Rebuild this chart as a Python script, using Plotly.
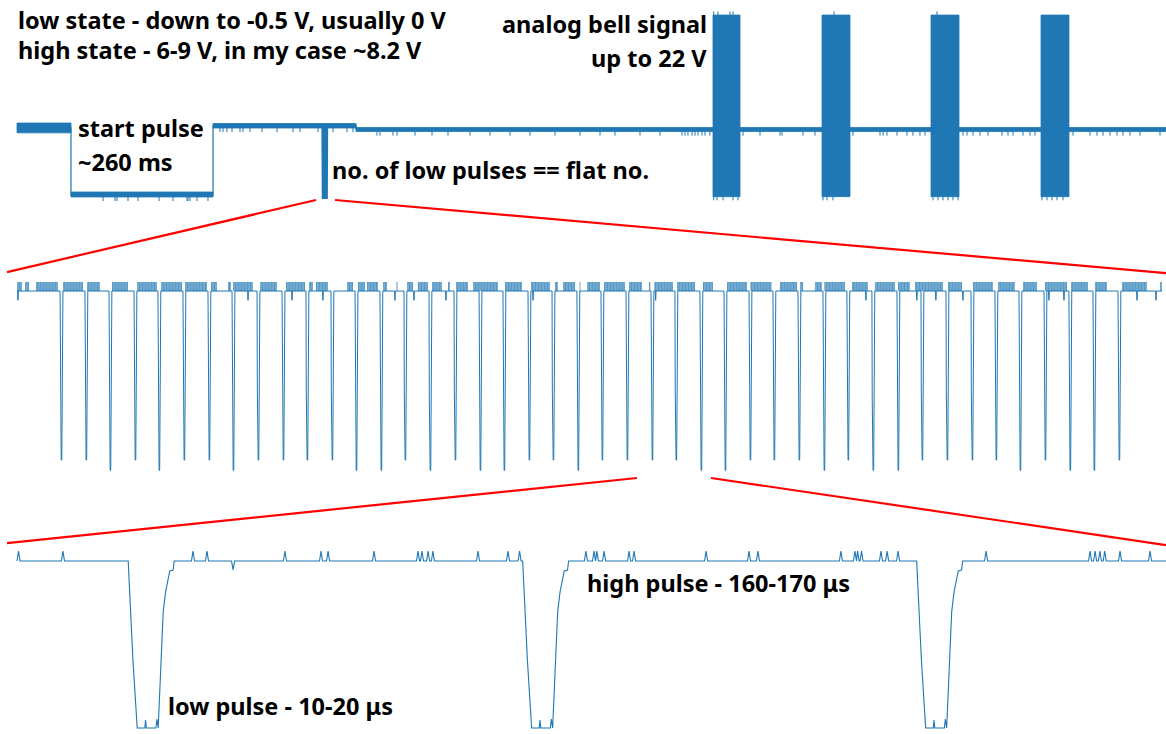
import plotly.graph_objects as go

BLUE = "#1f77b4"
W, H = 1166, 734

# ---------------- Panel 1 : whole call (time in ms, voltage in V) ----------------
p1_step_t = [0.0, 98.9, 359.0, 621.0, 2110.0]      # level change times
p1_step_v = [8.2, 0.0, 8.5, 8.0]                   # level of each segment
p1_noise_lo = [7.6, -0.24, 8.19, 7.76]             # noise band of each segment
p1_noise_hi = [8.8, 0.37, 8.74, 8.25]
p1_train_start = 559.5                              # where the low-pulse train sits
bell_start = [1274.7, 1474.4, 1674.0, 1875.5]
bell_end = [1324.2, 1525.6, 1725.3, 1926.7]
bell_low, bell_high = -0.2, 22.0
bell_ticks_top = [1276.0, 1283.9, 1305.9, 1311.4, 1496.3, 1685.0]
bell_ticks_bottom = [1276.0, 1282.1, 1293.1, 1311.4, 1320.5, 1476.2, 1483.5, 1494.5, 1677.7,
                     1686.8, 1696.0, 1705.1, 1714.3, 1723.5, 1877.3, 1886.4, 1895.6, 1904.8,
                     1915.7]
p1_ticks_seg1 = [157.5, 179.5, 183.2, 203.3, 221.6, 260.1, 285.7, 311.4, 313.2, 316.9, 329.7, 349.8]
p1_ticks_seg2 = [371.8, 377.3, 384.6, 393.8, 408.4, 413.9, 426.7, 448.7, 476.2, 505.5, 518.3,
                 551.3, 578.8, 604.4, 615.4]
p1_ticks_seg3 = [659.3, 664.8, 688.6, 696.0, 729.0, 760.1, 789.4, 829.7, 866.3, 902.9, 939.6,
                 985.4, 1031.1, 1067.8, 1095.2, 1141.0, 1177.7, 1218.0, 1223.4, 1228.9, 1236.3,
                 1241.8, 1247.3, 1254.6, 1260.1, 1269.2, 1329.7, 1360.8, 1397.4, 1401.1, 1439.6,
                 1461.5, 1531.1, 1580.6, 1586.1, 1593.4, 1611.7, 1630.0, 1641.0, 1653.8, 1663.0,
                 1732.6, 1739.9, 1750.9, 1763.7, 1778.4, 1804.0, 1815.0, 1824.2, 1842.5, 1855.3,
                 1864.5, 1934.1, 1965.2, 1978.0, 1989.0, 2001.8, 2014.6, 2025.6, 2038.4, 2056.7,
                 2093.4]
p1_tick_len = 0.5

# ---------------- Panel 2 : low-pulse train (time in us, voltage in V) ----------------
p2_high = 8.2
p2_end = 8376.0
p2_pulse_t = [315, 497, 673, 856, 1031, 1214, 1397, 1573, 1756, 1939, 2114, 2297, 2473, 2655,
              2831, 3014, 3197, 3380, 3555, 3738, 3914, 4096, 4272, 4455, 4638, 4813, 4996,
              5172, 5355, 5530, 5713, 5896, 6071, 6254, 6437, 6613, 6796, 6979, 7154, 7330,
              7513, 7695, 7871, 8054]
p2_pulse_low = [0.0, 0.0, -0.5, 0.0, -0.5, 0.0, 0.0, -0.5, 0.0, 0.0, 0.0, 0.0, -0.5, -0.5,
                0.0, -0.5, 0.0, -0.5, -0.5, 0.0, 0.0, -0.5, 0.0, 0.0, 0.0, 0.0, -0.5,
                -0.5, 0.0, 0.0, 0.0, -0.5, 0.0, -0.5, -0.5, 0.0, 0.0, 0.0, 0.0, -0.5,
                0.0, -0.5, -0.5, 0.0]
p2_glitch_start = [0, 59, 139, 336, 512, 695, 878, 1053, 1229, 1419, 1543, 1580, 1778, 1968,
                   2136, 2187, 2414, 2494, 2560, 2677, 2776, 2853, 2933, 3036, 3153, 3211, 3336,
                   3570, 3760, 3935, 3994, 4115, 4170, 4294, 4477, 4623, 4662, 4828, 5018, 5194,
                   5365, 5581, 5728, 5837, 5905, 6108, 6276, 6445, 6569, 6810, 6993, 7176, 7359,
                   7520, 7710, 7885, 8083, 8361]
p2_glitch_end = [37, 88, 300, 483, 607, 812, 1024, 1207, 1390, 1463, 1565, 1726, 1902, 2107,
                 2165, 2275, 2458, 2546, 2641, 2707, 2784, 2897, 3006, 3109, 3167, 3299, 3518,
                 3694, 3899, 3957, 4082, 4122, 4265, 4448, 4572, 4633, 4799, 4960, 5091, 5340,
                 5520, 5706, 5750, 5888, 6057, 6225, 6423, 6532, 6774, 6913, 7139, 7300, 7461,
                 7681, 7834, 7973, 8266, 8376]
p2_glitch_top = 8.64
p2_dips = [7, 1690, 2012, 2238, 2765, 2904, 3138, 3775, 4672, 6210, 6583, 6722, 6920, 7549,
           7659, 8193, 8332]
p2_dip_depth = 0.45

# ---------------- Panel 3 : three pulses (time in us, voltage in V) ----------------
p3_high = 8.2
p3_end = 525.0
p3_pulse_t = [50.8, 231.0, 411.0]
p3_pulse_low = [-0.3, -0.3, -0.3]
p3_glitches = [0.7, 21.0, 80.4, 86.8, 122.4, 138.9, 142.1, 163.1, 183.2, 185.0, 187.8, 190.0,
               210.6, 224.3, 229.6, 259.9, 263.6, 264.9, 268.2, 279.6, 281.9, 314.8, 334.4,
               338.5, 376.4, 382.8, 384.0, 385.8, 394.7, 397.5, 402.5, 442.7, 490.2, 492.5,
               494.7, 496.9, 503.9, 517.6]
p3_glitch_h = 0.5
p3_dips = [98.7]
p3_dip_depth = 0.45

# pulse shape: (offset in us, fraction of swing between low (0) and high (1))
pulse_dt = [0.0, 2.15, 4.11, 7.6, 7.9, 8.3, 12.65, 13.1, 13.7, 16.0, 17.1, 18.0, 19.0, 20.5, 21.0]
pulse_fr = [1.0, 0.41, 0.0, 0.0, 0.047, 0.0, 0.0, 0.054, 0.0, 0.697, 0.816, 0.886, 0.94, 0.946, 1.0]

# axis ranges (data values at the figure edges)
p1_xr, p1_yr = [-31.14, 2104.4], [-65.89, 23.84]
p2_xr, p2_yr = [-124.4, 8405.3], [-13.29, 22.32]
p3_xr, p3_yr = [-7.766, 524.9], [-0.606, 36.75]

# zoom connectors (in data units of their panels)
zoom1_src = [(547.6, -0.61), (582.4, -0.61)]      # panel 1
zoom1_dst = [(-73.0, 9.12), (8405.0, 9.07)]       # panel 2
zoom2_src = [(4535.0, -0.87), (5077.0, -0.87)]    # panel 2
zoom2_dst = [(-4.57, 9.11), (524.9, 9.01)]        # panel 3


def build_signal(t_end, high, pulses, lows, glitches, glitch_h, glitch_w, dips, dip_d, dip_w):
    ev = []
    for t0, lo in zip(pulses, lows):
        for dt, f in zip(pulse_dt, pulse_fr):
            ev.append((t0 + dt, lo + f * (high - lo)))
    for g in glitches:
        ev += [(g - glitch_w, high), (g, high + glitch_h), (g + glitch_w, high)]
    for d in dips:
        ev += [(d - dip_w, high), (d, high - dip_d), (d + dip_w, high)]
    ev.sort()
    xs = [0.0] + [e[0] for e in ev] + [t_end]
    ys = [high] + [e[1] for e in ev] + [high]
    return xs, ys


fig = go.Figure()

# ---- panel 1
sx, sy = [], []
for i, v in enumerate(p1_step_v):
    sx += [p1_step_t[i], p1_step_t[i + 1]]
    sy += [v, v]
fig.add_trace(go.Scatter(x=sx, y=sy, mode="lines", line=dict(color=BLUE, width=1.2),
                         xaxis="x", yaxis="y", hoverinfo="skip"))
bx, by = [], []
for i in range(len(p1_step_v)):
    a, b = p1_step_t[i], p1_step_t[i + 1]
    bx += [a, b, b, a, a, None]
    by += [p1_noise_lo[i], p1_noise_lo[i], p1_noise_hi[i], p1_noise_hi[i], p1_noise_lo[i], None]
for a, b in zip(bell_start, bell_end):
    bx += [a, b, b, a, a, None]
    by += [bell_low, bell_low, bell_high, bell_high, bell_low, None]
fig.add_trace(go.Scatter(x=bx, y=by, mode="lines", fill="toself", fillcolor=BLUE,
                         line=dict(color=BLUE, width=0.8), xaxis="x", yaxis="y", hoverinfo="skip"))
tx, ty = [], []
for seg, ticks in ((1, p1_ticks_seg1), (2, p1_ticks_seg2), (3, p1_ticks_seg3)):
    lo = p1_noise_lo[seg]
    for t in ticks:
        tx += [t, t, None]
        ty += [lo, lo - p1_tick_len, None]
for t in bell_ticks_top:
    tx += [t, t, None]
    ty += [bell_high, bell_high + 0.45, None]
for t in bell_ticks_bottom:
    tx += [t, t, None]
    ty += [bell_low, bell_low - 0.45, None]
fig.add_trace(go.Scatter(x=tx, y=ty, mode="lines", line=dict(color=BLUE, width=1),
                         xaxis="x", yaxis="y", hoverinfo="skip"))

# ---- panel 2
x2, y2 = build_signal(p2_end, p2_high, p2_pulse_t, p2_pulse_low, [], 0, 0,
                      p2_dips, p2_dip_depth, 3.0)
fig.add_trace(go.Scatter(x=[p1_train_start + t / 1000.0 for t in x2], y=y2, mode="lines",
                         line=dict(color=BLUE, width=2.2), xaxis="x", yaxis="y", hoverinfo="skip"))
gx, gy = [], []
for a, b in zip(p2_glitch_start, p2_glitch_end):
    gx += [a, b, b, a, a, None]
    gy += [p2_high, p2_high, p2_glitch_top, p2_glitch_top, p2_high, None]
fig.add_trace(go.Scatter(x=gx, y=gy, mode="lines", fill="toself",
                         fillpattern=dict(shape="|", fgcolor=BLUE, bgcolor="rgba(31,119,180,0.5)",
                                          size=3, solidity=0.7),
                         line=dict(color="rgba(31,119,180,0)", width=0),
                         xaxis="x2", yaxis="y2", hoverinfo="skip"))
fig.add_trace(go.Scatter(x=x2, y=y2, mode="lines", line=dict(color=BLUE, width=1),
                         xaxis="x2", yaxis="y2", hoverinfo="skip"))

# ---- panel 3
x3, y3 = build_signal(p3_end, p3_high, p3_pulse_t, p3_pulse_low, p3_glitches, p3_glitch_h, 0.7,
                      p3_dips, p3_dip_depth, 0.7)
fig.add_trace(go.Scatter(x=x3, y=y3, mode="lines", line=dict(color=BLUE, width=1.1),
                         xaxis="x3", yaxis="y3", hoverinfo="skip"))


def to_paper(pt, xr, yr):
    return ((pt[0] - xr[0]) / (xr[1] - xr[0]), (pt[1] - yr[0]) / (yr[1] - yr[0]))


shapes = []
for src, dst, sr, dr in ((zoom1_src, zoom1_dst, (p1_xr, p1_yr), (p2_xr, p2_yr)),
                         (zoom2_src, zoom2_dst, (p2_xr, p2_yr), (p3_xr, p3_yr))):
    for s, d in zip(src, dst):
        a = to_paper(s, *sr)
        b = to_paper(d, *dr)
        shapes.append(dict(type="line", xref="paper", yref="paper", x0=a[0], y0=a[1],
                           x1=b[0], y1=b[1], line=dict(color="red", width=2.2)))

labels = [
    ("low state - down to -0.5 V, usually 0 V", 16, 20, "left"),
    ("high state - 6-9 V, in my case ~8.2 V", 16, 50, "left"),
    ("analog bell signal", 709, 24, "right"),
    ("up to 22 V", 709, 58, "right"),
    ("start pulse", 76, 128, "left"),
    ("~260 ms", 76, 162, "left"),
    ("no. of low pulses == flat no.", 330, 170, "left"),
    ("high pulse - 160-170 μs", 585, 583, "left"),
    ("low pulse - 10-20 μs", 166, 706, "left"),
]
annotations = [dict(text="<b>%s</b>" % t, x=x / W, y=1 - y / H, xref="paper", yref="paper",
                    xanchor=anc, yanchor="middle", showarrow=False,
                    font=dict(family="Noto Sans", size=23.5, color="black"))
               for t, x, y, anc in labels]

ax = dict(visible=False, showgrid=False, zeroline=False, fixedrange=True, domain=[0, 1])
fig.update_layout(
    width=W, height=H, autosize=False, showlegend=False,
    margin=dict(l=0, r=0, t=0, b=0, pad=0),
    paper_bgcolor="white", plot_bgcolor="rgba(0,0,0,0)",
    xaxis=dict(ax, range=p1_xr, anchor="y"), yaxis=dict(ax, range=p1_yr, anchor="x"),
    xaxis2=dict(ax, range=p2_xr, anchor="y2"), yaxis2=dict(ax, range=p2_yr, anchor="x2"),
    xaxis3=dict(ax, range=p3_xr, anchor="y3"), yaxis3=dict(ax, range=p3_yr, anchor="x3"),
    shapes=shapes, annotations=annotations,
)
fig.write_html("out.html", config={"displayModeBar": False},
               post_script="document.body.style.margin='0';document.body.style.overflow='hidden';")
